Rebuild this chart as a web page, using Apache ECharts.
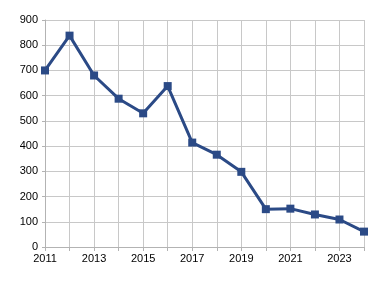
<!DOCTYPE html>
<html><head><meta charset="utf-8">
<script src="https://cdn.jsdelivr.net/npm/echarts@6/dist/echarts.min.js"></script>
<style>html,body{margin:0;padding:0;background:#fff}#c{width:383px;height:282px}</style>
</head><body><div id="c"></div>
<script>
const years = ['2011','2012','2013','2014','2015','2016','2017','2018','2019','2020','2021','2022','2023','2024'];
const values = [700, 838, 680, 588, 530, 638, 414, 366, 298, 150, 152, 129, 109, 61];
const yTicks = [0, 900, 100];
const chart = echarts.init(document.getElementById('c'), null, {renderer:'canvas'});
chart.setOption({
  animation:false,
  grid:{left:45,right:19,top:20,bottom:35},
  xAxis:{type:'category',data:years,boundaryGap:false,
    axisLine:{lineStyle:{color:'#b3b3b3'}},
    axisTick:{show:true,length:4,interval:0,lineStyle:{color:'#b3b3b3'}},
    axisLabel:{interval:1,color:'#000',fontSize:11,fontFamily:'Liberation Sans',margin:6},
    splitLine:{show:true,interval:0,lineStyle:{color:'#c8c8c8'}}},
  yAxis:{type:'value',min:yTicks[0],max:yTicks[1],interval:yTicks[2],
    axisLine:{show:true,lineStyle:{color:'#b3b3b3'}},
    axisTick:{show:true,length:3,lineStyle:{color:'#b3b3b3'}},
    axisLabel:{color:'#000',fontSize:11,fontFamily:'Liberation Sans',margin:7},
    splitLine:{lineStyle:{color:'#c8c8c8'}}},
  series:[{type:'line',data:values,symbol:'rect',symbolSize:8,
    lineStyle:{color:'#2b4a86',width:3},itemStyle:{color:'#2b4a86'}}]
});
</script></body></html>
